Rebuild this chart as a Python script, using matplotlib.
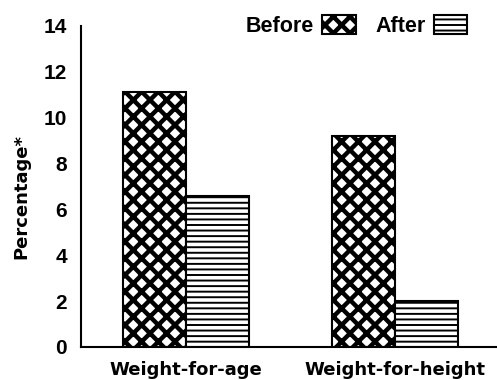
import numpy as np
import matplotlib
matplotlib.use("Agg")
import matplotlib.pyplot as plt

# Data
categories = ["Weight-for-age", "Weight-for-height"]
before = [11.1, 9.2]
after = [6.6, 2.0]
yticks = [0, 2, 4, 6, 8, 10, 12, 14]

plt.rcParams["font.family"] = ["Liberation Sans", "DejaVu Sans"]
plt.rcParams["hatch.linewidth"] = 1.4
plt.rcParams["hatch.color"] = "black"

fig = plt.figure(figsize=(4.97, 3.8), dpi=100)
ax = fig.add_axes([0.163, 0.087, 0.837, 0.845])

x = np.arange(len(categories))
w = 0.30
b1 = ax.bar(x - w / 2, before, w, facecolor="white", edgecolor="black",
            hatch="xx", linewidth=1.5, label="Before")
b2 = ax.bar(x + w / 2, after, w, facecolor="white", edgecolor="black",
            hatch="---", linewidth=1.5, label="After")
# thicker crosshatch so the white gaps look like small dots
for p in b1.patches:
    if hasattr(p, "set_hatch_linewidth"):
        p.set_hatch_linewidth(3.2)

ax.set_xlim(-0.502, 1.488)
ax.set_ylim(0, 14)
ax.set_yticks(yticks)
ax.set_yticklabels([str(t) for t in yticks], fontsize=15, fontweight="bold")
ax.set_xticks(x)
ax.set_xticklabels(categories, fontsize=13, fontweight="bold",
                   family="DejaVu Sans")
ax.tick_params(axis="y", length=0, pad=10)
ax.tick_params(axis="x", length=0, pad=10)

for s in ["top", "right"]:
    ax.spines[s].set_visible(False)
for s in ["left", "bottom"]:
    ax.spines[s].set_linewidth(1.5)

fig.text(0.044, 0.482, "Percentage*", rotation=90, ha="center", va="center",
         fontsize=13, fontweight="bold", family="DejaVu Sans")

leg = fig.legend(loc="upper right", bbox_to_anchor=(0.962, 0.99), ncol=2,
                 frameon=False, markerfirst=False,
                 handlelength=1.55, handleheight=1.0, handletextpad=0.4,
                 columnspacing=0.9, borderpad=0,
                 prop={"weight": "bold", "size": 15.5})
for h in leg.legend_handles[:1]:
    if hasattr(h, "set_hatch_linewidth"):
        h.set_hatch_linewidth(3.2)

fig.savefig("out.png", dpi=100)
